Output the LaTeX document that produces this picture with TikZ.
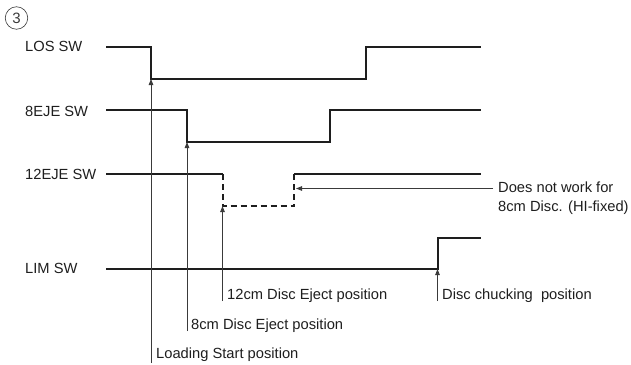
\documentclass[tikz,border=0pt]{standalone}
\usepackage{fontspec}
\setmainfont{Liberation Sans}
\usetikzlibrary{arrows.meta}
\definecolor{ink}{HTML}{1E1E1E}
\definecolor{thin}{HTML}{3A3A3A}
\begin{document}
\begin{tikzpicture}[x=1pt,y=-1pt,
  lbl/.style={font=\fontsize{14.7}{17}\selectfont, text=ink, inner sep=0pt, anchor=west},
  sig/.style={draw=ink, line width=2pt, line join=miter},
  sigdash/.style={sig, dash pattern=on 6pt off 4pt},
  pointer/.style={draw=thin, line width=0.8pt, -{Triangle[length=6pt,width=4.5pt]}}]
\useasboundingbox (0,0) rectangle (631,364);

% sheet number
\node[circle, draw=thin, line width=0.6pt, minimum size=22.5pt, inner sep=0pt,
      font=\fontsize{15}{17}\selectfont, text=thin] (num) at (16.5,18) {3};

% switch names
\node[lbl] (los)  at (25,46)  {LOS SW};
\node[lbl] (eje8) at (25,111) {8EJE SW};
\node[lbl] (eje12) at (25,174) {12EJE SW};
\node[lbl] (lim)  at (25,268) {LIM SW};

% signal edges
\coordinate (losA) at (106,47);
\coordinate (losF) at (151,79);
\coordinate (losR) at (366,47);
\coordinate (losB) at (481,47);
\coordinate (e8A) at (106,110);
\coordinate (e8F) at (187,142);
\coordinate (e8R) at (330,110);
\coordinate (e8B) at (481,110);
\coordinate (e12A) at (106,174);
\coordinate (e12F) at (222.5,206);
\coordinate (e12R) at (294,174);
\coordinate (e12B) at (481,174);
\coordinate (limA) at (106,269);
\coordinate (limR) at (437.5,238);
\coordinate (limB) at (481,238);

% waveforms
\draw[sig] (losA) -| (losF) -| (losR) -- (losB);
\draw[sig] (e8A) -| (e8F) -| (e8R) -- (e8B);
\draw[sig] (e12A) -- (e12A -| e12F);
\draw[sigdash] (e12A -| e12F) -- (e12F) -| (e12R);
\draw[sig] (e12R) -- (e12B);
\draw[sig] (limA) -| (limR) -- (limB);

% position labels
\node[lbl] (p12)   at (227,296) {12cm Disc Eject position};
\node[lbl] (pchk)  at (442,296) {Disc chucking\ \ position};
\node[lbl] (p8)    at (191,326) {8cm Disc Eject position};
\node[lbl] (pload) at (156,355) {Loading Start position};
\node[lbl, align=left] (note) at (498,198) {Does not work for\\[2pt]8cm Disc. (HI-fixed)};

% pointer feet
\coordinate (f12)   at (222.5,301);
\coordinate (fchk)  at (437.5,301);
\coordinate (f8)    at (187,331);
\coordinate (fload) at (151,363);
\coordinate (fnote) at (493,188.5);

% pointers
\draw[pointer] (fload) -- (losF);
\draw[pointer] (f8) -- (e8F);
\draw[pointer] (f12) -- (e12F);
\draw[pointer] (fchk) -- (limA -| limR);
\draw[pointer] (fnote) -- (296,188.5);
\end{tikzpicture}
\end{document}
